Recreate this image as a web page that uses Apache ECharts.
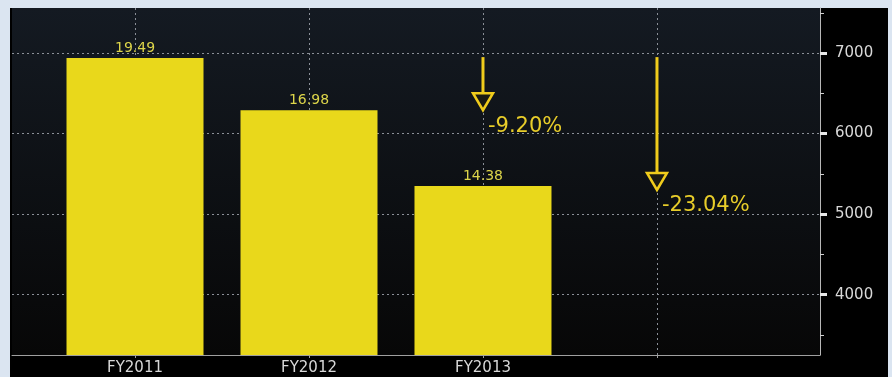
<!DOCTYPE html>
<html>
<head>
<meta charset="utf-8">
<script src="https://cdn.jsdelivr.net/npm/echarts@6/dist/echarts.min.js"></script>
<style>
html,body{margin:0;padding:0;background:#dbe5f1;width:892px;height:377px;overflow:hidden;}
#frame{position:absolute;left:10px;top:8px;width:878px;height:369px;background:#000;}
#chart{position:absolute;left:0;top:0;width:892px;height:377px;}
</style>
</head>
<body>
<div id="frame"></div>
<div id="chart"></div>
<script>
const categories = ['FY2011', 'FY2012', 'FY2013'];
const barValues = [6940, 6290, 5348];
const barLabels = ['19.49', '16.98', '14.38'];
const yTicks = [4000, 5000, 6000, 7000];
const yMinorTicks = [3500, 4500, 5500, 6500, 7500];
const gridXs = [0, 1, 2, 3];
const arrowPos = [2, 3];
const arrowFrom = [6950, 6950];
const arrowTo = [6290, 5300];
const arrowLabels = ['-9.20%', '-23.04%'];

const chart = echarts.init(document.getElementById('chart'), null, {renderer: 'canvas'});
const dotted = {color: '#8b9098', width: 1, type: [2, 3]};
const font = 'DejaVu Sans';

const option = {
  animation: false,
  backgroundColor: 'transparent',
  grid: {
    left: 12, top: 8, right: 72, bottom: 22,
    show: true, borderWidth: 0,
    backgroundColor: new echarts.graphic.LinearGradient(0, 0, 0, 1, [
      {offset: 0, color: '#141a22'}, {offset: 1, color: '#070707'}
    ])
  },
  xAxis: {
    type: 'value', min: -0.707, max: 3.937,
    axisLine: {show: true, onZero: false, lineStyle: {color: '#a0a0a0', width: 1}},
    axisTick: {show: true, customValues: gridXs, length: 3, lineStyle: {color: '#a0a0a0'}},
    axisLabel: {
      customValues: [0, 1, 2], color: '#d8d8d8', fontFamily: font, fontSize: 15, margin: 6,
      formatter: v => categories[Math.round(v)]
    },
    splitLine: {show: true, lineStyle: dotted}
  },
  yAxis: [{
    type: 'value', position: 'right', min: 3250, max: 7560,
    axisLine: {show: true, onZero: false, lineStyle: {color: '#b8b8b8', width: 1}},
    axisTick: {show: true, customValues: yTicks, length: 7, lineStyle: {color: '#e8e8e8', width: 3}},
    axisLabel: {customValues: yTicks, color: '#d8d8d8', fontFamily: font, fontSize: 15, margin: 15,
      formatter: v => String(v)},
    splitLine: {show: true, lineStyle: dotted}
  }, {
    type: 'value', position: 'right', min: 3250, max: 7560,
    axisLine: {show: false, onZero: false},
    axisTick: {show: true, customValues: yMinorTicks, length: 4, lineStyle: {color: '#d0d0d0', width: 1}},
    axisLabel: {show: false},
    splitLine: {show: false}
  }],
  series: [{
    type: 'bar',
    data: barValues.map((v, i) => [i, v]),
    barWidth: 137,
    itemStyle: {color: '#e9d81b'},
    label: {
      show: true, position: 'top', distance: 3,
      color: '#ddd54a', fontFamily: font, fontSize: 14,
      formatter: p => barLabels[p.dataIndex]
    }
  }, {
    type: 'custom',
    data: arrowPos.map((x, i) => [x, arrowFrom[i], arrowTo[i]]),
    renderItem: (params, api) => {
      const x = api.value(0);
      const p0 = api.coord([x, api.value(1)]);
      const p1 = api.coord([x, api.value(2)]);
      const hh = 17, hw = 10;
      return {
        type: 'group',
        children: [{
          type: 'line',
          shape: {x1: p0[0], y1: p0[1], x2: p1[0], y2: p1[1] - hh},
          style: {stroke: '#f0cc1c', lineWidth: 3}
        }, {
          type: 'polygon',
          shape: {points: [[p1[0] - hw, p1[1] - hh], [p1[0] + hw, p1[1] - hh], [p1[0], p1[1]]]},
          style: {stroke: '#f0cc1c', lineWidth: 2.5, fill: '#1a1a12'}
        }, {
          type: 'text',
          x: p1[0] + 5, y: p1[1] + 16,
          style: {
            text: arrowLabels[params.dataIndex],
            fill: '#e8cd2a', font: '21px "DejaVu Sans"',
            verticalAlign: 'middle', align: 'left'
          }
        }]
      };
    }
  }]
};
chart.setOption(option);
</script>
</body>
</html>
